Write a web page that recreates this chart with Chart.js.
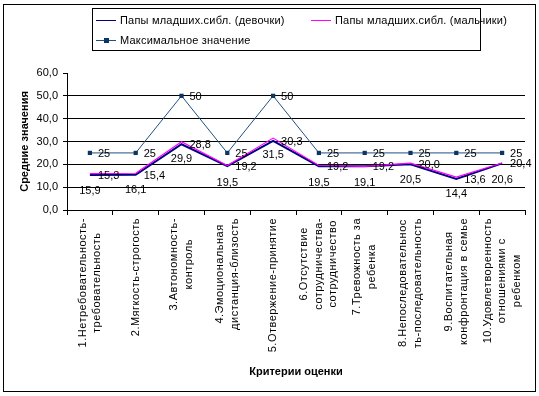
<!DOCTYPE html>
<html lang="ru">
<head>
  <meta charset="UTF-8" />
  <title>Средние значения по критериям оценки</title>
  <style>
    body {
      margin: 0;
      background: #fff;
      font-family: "Liberation Sans", Arial, sans-serif;
    }
    #wrap {
      position: relative;
      width: 539px;
      height: 396px;
      background: #fff;
    }
    #frame {
      position: absolute;
      left: 3px;
      top: 4px;
      width: 531px;
      height: 386px;
      border: 1px solid #000;
      pointer-events: none;
    }
    #legend {
      position: absolute;
      left: 92px;
      top: 8px;
      width: 387px;
      height: 41px;
      border: 1px solid #000;
      background: #fff;
      font-size: 11px;
      color: #000;
    }
    .item {
      position: absolute;
      height: 14px;
      line-height: 14px;
      white-space: nowrap;
      letter-spacing: 0.2px;
    }
    .sample {
      position: absolute;
      left: 0;
      top: 7px;
      width: 20px;
    }
    .item span.txt {
      position: absolute;
      left: 24px;
      top: 0;
    }
    .mark {
      position: absolute;
      left: 8px;
      top: -3px;
      width: 5px;
      height: 5px;
      background: #0d3561;
    }
  </style>
</head>
<body>
<div id="wrap">
  <canvas id="chart" width="539" height="396"></canvas>
  <div id="frame"></div>
  <div id="legend">
    <div class="item" style="left:3px; top:4px;">
      <div class="sample" style="border-top:1px solid #000080;"></div>
      <span class="txt">Папы младших.сибл. (девочки)</span>
    </div>
    <div class="item" style="left:218px; top:4px;">
      <div class="sample" style="border-top:1px solid #ff00ff;"></div>
      <span class="txt">Папы младших.сибл. (мальчики)</span>
    </div>
    <div class="item" style="left:3px; top:24px;">
      <div class="sample" style="border-top:1px solid #21507f;"><div class="mark"></div></div>
      <span class="txt">Максимальное значение</span>
    </div>
  </div>
</div>

<script src="https://cdn.jsdelivr.net/npm/chart.js"></script>
<script>
  // категории (подписи по оси X, по строкам)
  const categories = [
    ['1.Нетребовательность-', 'требовательность'],
    ['2.Мягкость-строгость'],
    ['3.Автономность-', 'контроль'],
    ['4.Эмоциональная', 'дистанция-близость'],
    ['5.Отвержение-принятие'],
    ['6.Отсутствие', 'сотрудничества-', 'сотрудничество'],
    ['7.Тревожность за', 'ребенка'],
    ['8.Непоследовательнос', 'ть-последовательность'],
    ['9.Воспитательная', 'конфронтация в семье'],
    ['10.Удовлетворенность', 'отношениями с', 'ребенком']
  ];

  // средние значения
  const girls = [15.3, 15.4, 28.8, 19.2, 30.3, 19.2, 19.2, 20.0, 13.6, 20.4];
  const boys = [15.9, 16.1, 29.9, 19.5, 31.5, 19.5, 19.1, 20.5, 14.4, 20.6];
  const maxValues = [25, 25, 50, 25, 50, 25, 25, 25, 25, 25];

  const seriesNames = [
    'Папы младших.сибл. (девочки)',
    'Папы младших.сибл. (мальчики)',
    'Максимальное значение'
  ];

  const FONT = '"Liberation Sans", Arial, sans-serif';

  function comma(v, digits) {
    return v.toFixed(digits).replace('.', ',');
  }

  // подписи данных: справа или снизу от точки
  const dataLabels = {
    id: 'dataLabels',
    afterDatasetsDraw(chart) {
      const ctx = chart.ctx;
      ctx.save();
      ctx.font = '11px ' + FONT;
      ctx.fillStyle = '#000';
      ctx.textBaseline = 'middle';
      chart.data.datasets.forEach((ds, di) => {
        const meta = chart.getDatasetMeta(di);
        meta.data.forEach((pt, i) => {
          const v = ds.data[i];
          if (ds.labelPos === 'below') {
            ctx.textAlign = 'center';
            ctx.fillText(comma(v, ds.digits), pt.x, pt.y + 17);
          } else {
            ctx.textAlign = 'left';
            ctx.fillText(comma(v, ds.digits), pt.x + 8, pt.y + 1);
          }
        });
      });
      ctx.restore();
    }
  };

  // повернутые многострочные подписи категорий
  const rotatedLabels = {
    id: 'rotatedLabels',
    afterDraw(chart) {
      const ctx = chart.ctx;
      const xs = chart.scales.x;
      const top = chart.chartArea.bottom + 8;
      const lh = 14.5;
      ctx.save();
      ctx.font = '11px ' + FONT;
      ctx.letterSpacing = '0.5px';
      ctx.fillStyle = '#000';
      ctx.textAlign = 'center';
      ctx.textBaseline = 'middle';
      categories.forEach((lines, i) => {
        const x = xs.getPixelForValue(i);
        const w = Math.max(...lines.map(l => ctx.measureText(l).width));
        ctx.save();
        ctx.translate(x, top + w / 2);
        ctx.rotate(-Math.PI / 2);
        lines.forEach((l, j) => {
          ctx.fillText(l, 0, (j - (lines.length - 1) / 2) * lh);
        });
        ctx.restore();
      });
      ctx.restore();
    }
  };

  new Chart(document.getElementById('chart'), {
    type: 'line',
    data: {
      labels: categories.map(c => c.join(' ')),
      datasets: [
        {
          label: seriesNames[0],
          data: girls,
          borderColor: '#000080',
          borderWidth: 2,
          pointRadius: 0,
          tension: 0,
          order: 1,
          labelPos: 'right',
          digits: 1
        },
        {
          label: seriesNames[1],
          data: boys,
          borderColor: '#ff00ff',
          borderWidth: 1.2,
          pointRadius: 0,
          tension: 0,
          order: 0,
          labelPos: 'below',
          digits: 1
        },
        {
          label: seriesNames[2],
          data: maxValues,
          borderColor: '#21507f',
          borderWidth: 1,
          pointStyle: 'rect',
          pointRadius: 3,
          pointBackgroundColor: '#0d3561',
          pointBorderColor: '#0d3561',
          pointBorderWidth: 0,
          tension: 0,
          order: 2,
          labelPos: 'right',
          digits: 0
        }
      ]
    },
    options: {
      responsive: false,
      animation: false,
      layout: { padding: { top: 73, right: 14, bottom: 0, left: 0 } },
      plugins: {
        legend: { display: false },
        tooltip: { enabled: false }
      },
      scales: {
        x: {
          offset: true,
          afterFit: s => { s.height = 186; },
          grid: {
            offset: true,
            drawOnChartArea: false,
            drawTicks: true,
            tickLength: 5,
            color: '#000'
          },
          border: { color: '#000', width: 1 },
          ticks: { display: false },
          title: {
            display: true,
            text: 'Критерии оценки',
            color: '#000',
            font: { family: FONT, size: 11, weight: 'bold' },
            padding: { bottom: 17 }
          }
        },
        y: {
          min: 0,
          max: 60,
          afterFit: s => { s.width = 67; },
          grid: {
            color: ctx => (ctx.tick && (ctx.tick.value === 0 || ctx.tick.value === 60)) ? 'rgba(0,0,0,0)' : '#000',
            tickColor: '#000',
            tickLength: 4
          },
          border: { color: '#000', width: 1 },
          ticks: {
            stepSize: 10,
            padding: 5,
            color: '#000',
            font: { family: FONT, size: 11 },
            callback: v => comma(v, 1)
          },
          title: {
            display: true,
            text: 'Средние значения',
            color: '#000',
            font: { family: FONT, size: 11, weight: 'bold' },
            padding: { top: 18 }
          }
        }
      }
    },
    plugins: [dataLabels, rotatedLabels]
  });
</script>
</body>
</html>
